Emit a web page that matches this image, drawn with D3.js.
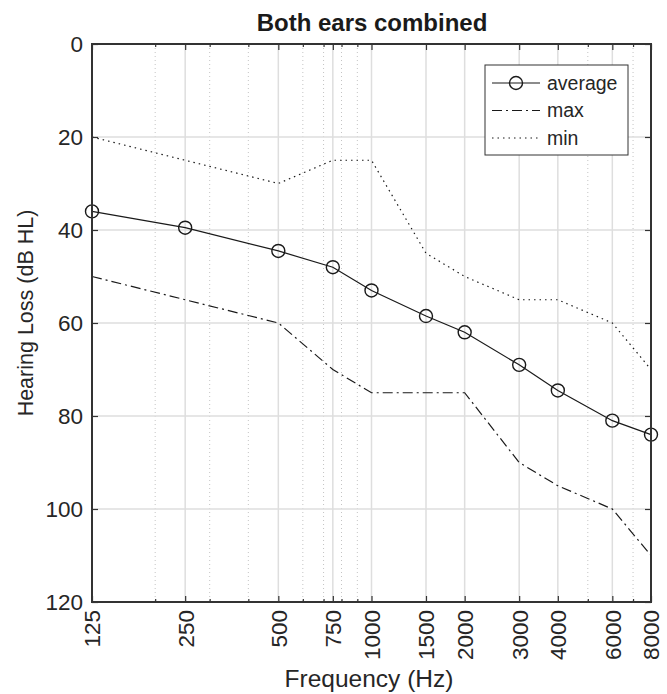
<!DOCTYPE html>
<html>
<head>
<meta charset="utf-8">
<script src="https://d3js.org/d3.v7.min.js"></script>
<style>
  body { margin: 0; background: #fff; }
  svg text { font-family: "Liberation Sans", Arial, Helvetica, sans-serif; fill: #262626; }
</style>
</head>
<body>
<svg id="chart"></svg>
<script>
// --- DATOS ---
const frecuencias = [125, 250, 500, 750, 1000, 1500, 2000, 3000, 4000, 6000, 8000];
const promedio = [36, 39.5, 44.5, 48, 53, 58.5, 62, 69, 74.5, 81, 84];
const maximo = [50, 55, 60, 70, 75, 75, 75, 90, 95, 100, 110];
const minimo = [20, 25, 30, 25, 25, 45, 50, 55, 55, 60, 70];
const ticksY = [0, 20, 40, 60, 80, 100, 120];
const ticksMenores = [200, 300, 400, 600, 700, 800, 900, 5000, 7000];

const series = [
  { nombre: "average", valores: promedio, dash: null, marcador: true },
  { nombre: "max", valores: maximo, dash: "10,4,2,4", marcador: false },
  { nombre: "min", valores: minimo, dash: "1.5,4", marcador: false }
];

const width = 667, height = 694;
const margin = { top: 44, right: 16, bottom: 92, left: 92 };
const x0 = margin.left, x1 = width - margin.right;
const y0 = margin.top, y1 = height - margin.bottom;

const svg = d3.select("#chart").attr("width", width).attr("height", height);

const x = d3.scaleLog().domain([125, 8000]).range([x0, x1]);
const y = d3.scaleLinear().domain([0, 120]).range([y0, y1]);

// --- GRILLA ---
const grid = svg.append("g");
grid.selectAll("line.menor")
  .data(ticksMenores)
  .enter().append("line")
  .attr("class", "menor")
  .attr("x1", d => x(d)).attr("x2", d => x(d))
  .attr("y1", y0).attr("y2", y1)
  .attr("stroke", "#c4c4c4")
  .attr("stroke-width", 1)
  .attr("stroke-dasharray", "1,3");

grid.selectAll("line.vx")
  .data(frecuencias)
  .enter().append("line")
  .attr("class", "vx")
  .attr("x1", d => x(d)).attr("x2", d => x(d))
  .attr("y1", y0).attr("y2", y1)
  .attr("stroke", "#dedede")
  .attr("stroke-width", 1.5);

grid.selectAll("line.hy")
  .data(ticksY)
  .enter().append("line")
  .attr("class", "hy")
  .attr("x1", x0).attr("x2", x1)
  .attr("y1", d => y(d)).attr("y2", d => y(d))
  .attr("stroke", "#dedede")
  .attr("stroke-width", 1.5);

// --- SERIES ---
const linea = d3.line()
  .x((d, i) => x(frecuencias[i]))
  .y(d => y(d));

series.forEach(s => {
  const p = svg.append("path")
    .datum(s.valores)
    .attr("d", linea)
    .attr("fill", "none")
    .attr("stroke", "#1a1a1a")
    .attr("stroke-width", 1.2);
  if (s.dash) p.attr("stroke-dasharray", s.dash);
});

svg.append("g")
  .selectAll("circle")
  .data(promedio)
  .enter().append("circle")
  .attr("cx", (d, i) => x(frecuencias[i]))
  .attr("cy", d => y(d))
  .attr("r", 6.5)
  .attr("fill", "none")
  .attr("stroke", "#1a1a1a")
  .attr("stroke-width", 1.4);

// --- EJES ---
const colorEje = "#333";

function estilo(g) {
  g.select(".domain").remove();
  g.selectAll(".tick line").attr("stroke", colorEje).attr("stroke-width", 1.2);
}

// abajo
const ejeX = svg.append("g")
  .attr("transform", `translate(0,${y1})`)
  .call(d3.axisBottom(x).tickValues(frecuencias).tickFormat(d3.format("d")).tickSizeInner(-6).tickSizeOuter(0))
  .call(estilo);
ejeX.selectAll(".tick text")
  .attr("font-size", 22.5)
  .attr("text-anchor", "end")
  .attr("transform", "rotate(-90)")
  .attr("x", -8)
  .attr("y", 0)
  .attr("dy", "0.35em");
svg.append("g")
  .attr("transform", `translate(0,${y1})`)
  .call(d3.axisBottom(x).tickValues(ticksMenores).tickFormat("").tickSizeInner(-3).tickSizeOuter(0))
  .call(estilo);

// arriba
svg.append("g")
  .attr("transform", `translate(0,${y0})`)
  .call(d3.axisTop(x).tickValues(frecuencias).tickFormat("").tickSizeInner(-6).tickSizeOuter(0))
  .call(estilo);
svg.append("g")
  .attr("transform", `translate(0,${y0})`)
  .call(d3.axisTop(x).tickValues(ticksMenores).tickFormat("").tickSizeInner(-3).tickSizeOuter(0))
  .call(estilo);

// izquierda
const ejeY = svg.append("g")
  .attr("transform", `translate(${x0},0)`)
  .call(d3.axisLeft(y).tickValues(ticksY).tickSizeInner(-6).tickSizeOuter(0).tickPadding(9))
  .call(estilo);
ejeY.selectAll(".tick text").attr("font-size", 22.5);

// derecha
svg.append("g")
  .attr("transform", `translate(${x1},0)`)
  .call(d3.axisRight(y).tickValues(ticksY).tickFormat("").tickSizeInner(-6).tickSizeOuter(0))
  .call(estilo);

// caja
svg.append("rect")
  .attr("x", x0).attr("y", y0)
  .attr("width", x1 - x0).attr("height", y1 - y0)
  .attr("fill", "none")
  .attr("stroke", colorEje)
  .attr("stroke-width", 2);

// --- TEXTOS ---
svg.append("text")
  .attr("x", 372).attr("y", 31)
  .attr("text-anchor", "middle")
  .attr("font-size", 24)
  .attr("font-weight", "bold")
  .style("fill", "#1a1a1a")
  .text("Both ears combined");

svg.append("text")
  .attr("x", 369).attr("y", 687)
  .attr("text-anchor", "middle")
  .attr("font-size", 24.5)
  .text("Frequency (Hz)");

svg.append("text")
  .attr("transform", "translate(33,313) rotate(-90)")
  .attr("text-anchor", "middle")
  .attr("font-size", 21.5)
  .text("Hearing Loss (dB HL)");

// --- LEYENDA ---
const ley = svg.append("g").attr("transform", "translate(485,65)");
ley.append("rect")
  .attr("width", 143).attr("height", 90)
  .attr("fill", "#fff")
  .attr("stroke", colorEje)
  .attr("stroke-width", 1);

series.forEach((s, i) => {
  const yy = 18 + i * 27.5;
  const l = ley.append("line")
    .attr("x1", 7).attr("x2", 55)
    .attr("y1", yy).attr("y2", yy)
    .attr("stroke", "#1a1a1a")
    .attr("stroke-width", 1.2);
  if (s.dash) l.attr("stroke-dasharray", s.dash);
  if (s.marcador) {
    ley.append("circle")
      .attr("cx", 31).attr("cy", yy).attr("r", 6.5)
      .attr("fill", "none")
      .attr("stroke", "#1a1a1a")
      .attr("stroke-width", 1.4);
  }
  ley.append("text")
    .attr("x", 62).attr("y", yy)
    .attr("dy", "0.35em")
    .attr("font-size", 19.5)
    .text(s.nombre);
});
</script>
</body>
</html>
